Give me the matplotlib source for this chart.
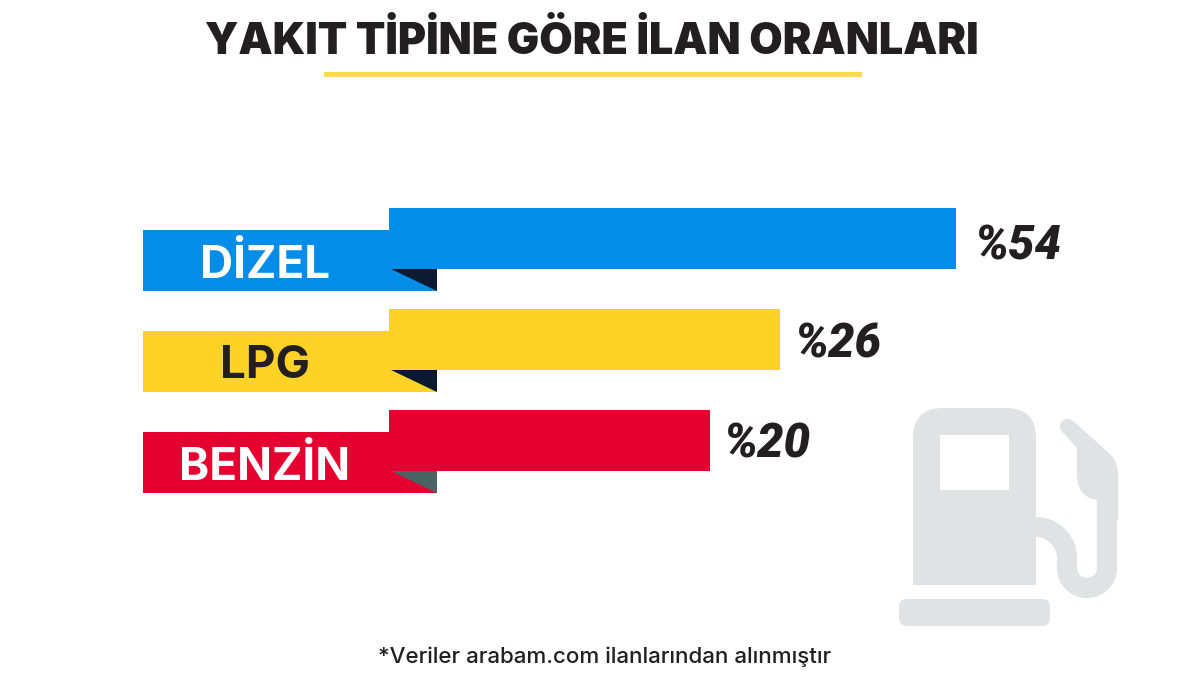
import matplotlib
matplotlib.use('Agg')
import matplotlib.pyplot as plt
from matplotlib.patches import FancyBboxPatch, PathPatch, Polygon, Rectangle
from matplotlib.path import Path

categories = ['DİZEL', 'LPG', 'BENZİN']
percents = [54, 26, 20]
# drawn bar ends (bars are not to scale with the percents)
bar_ends = [956, 780, 710]
bar_colors = ['#038de8', '#ffd227', '#e4002f']
fold_colors = ['#0b1b33', '#0a1a2e', '#4a6363']
name_colors = ['white', '#231f20', 'white']

title = 'YAKIT TİPİNE GÖRE İLAN ORANLARI'
note = '*Veriler arabam.com ilanlarından alınmıştır'
gray = '#e1e2e4'
dark = '#231f20'

fig = plt.figure(figsize=(12, 6.75), dpi=100)
ax = fig.add_axes([0, 0, 1, 1])
ax.set_xlim(0, 1200)
ax.set_ylim(675, 0)
ax.axis('off')

ax.text(592, 42, title, ha='center', va='center', fontsize=31, color=dark,
        family='Inter', weight='black')
ax.add_patch(Rectangle((324, 72), 538, 5, color='#fdd94f', lw=0))

label_gaps = [18, 14, 13]
for i, cat in enumerate(categories):
    top = 208 + 101 * i
    # back ribbon, then the main bar on top of it
    ax.barh(top + 52.5, 294, height=61, left=143, color=bar_colors[i])
    ax.barh(top + 30.5, bar_ends[i] - 389, height=61, left=389, color=bar_colors[i])
    ax.add_patch(Polygon([(391, top + 61), (437, top + 61), (437, top + 83)],
                         color=fold_colors[i], lw=0))
    ax.text(265, top + 57, cat, ha='center', va='center', fontsize=33,
            color=name_colors[i], family='Inter', weight='bold')
    ax.text(bar_ends[i] + label_gaps[i], top + 38 - 2 * i, '%%%d' % percents[i], ha='left',
            va='center', fontsize=34, color=dark, family='Roboto', weight='black', style='italic')

# pump icon
body = Path([(913, 585), (913, 438), (913, 408), (943, 408), (1006, 408), (1036, 408),
             (1036, 438), (1036, 585), (913, 585)],
            [Path.MOVETO, Path.LINETO, Path.CURVE3, Path.CURVE3, Path.LINETO, Path.CURVE3,
             Path.CURVE3, Path.LINETO, Path.CLOSEPOLY])
ax.add_patch(PathPatch(body, fc=gray, lw=0))
ax.add_patch(Rectangle((940, 435), 69, 55, color='white', lw=0))
ax.add_patch(FancyBboxPatch((905, 605), 139, 15, boxstyle='round,pad=6,rounding_size=8',
                            fc=gray, lw=0))
hose = Path([(1036, 527), (1053, 527), (1067, 541), (1067, 558), (1067, 568),
             (1067, 579), (1076, 588), (1087, 588), (1098, 588), (1107, 579), (1107, 568),
             (1107, 480)],
            [Path.MOVETO, Path.CURVE4, Path.CURVE4, Path.CURVE4, Path.LINETO,
             Path.CURVE4, Path.CURVE4, Path.CURVE4, Path.CURVE4, Path.CURVE4, Path.CURVE4,
             Path.LINETO])
ax.add_patch(PathPatch(hose, fc='none', ec=gray, lw=14.5, capstyle='butt'))
nozzle = Path([(1073, 421), (1110, 454), (1118, 461), (1118, 475), (1118, 520), (1097, 520),
               (1097, 500), (1077, 497), (1077, 475), (1077, 448), (1066, 436)],
              [Path.MOVETO, Path.LINETO, Path.CURVE3, Path.CURVE3, Path.LINETO, Path.LINETO,
               Path.LINETO, Path.CURVE3, Path.CURVE3, Path.LINETO, Path.LINETO])
ax.add_patch(PathPatch(nozzle, fc=gray, lw=0))
ax.plot([1067.5, 1090], [426.5, 447], color=gray, lw=11, solid_capstyle='round')

ax.text(605, 657, note, ha='center', va='center', fontsize=16.1, color=dark, family='Inter',
        weight='medium')

fig.savefig('out.png', dpi=100)
